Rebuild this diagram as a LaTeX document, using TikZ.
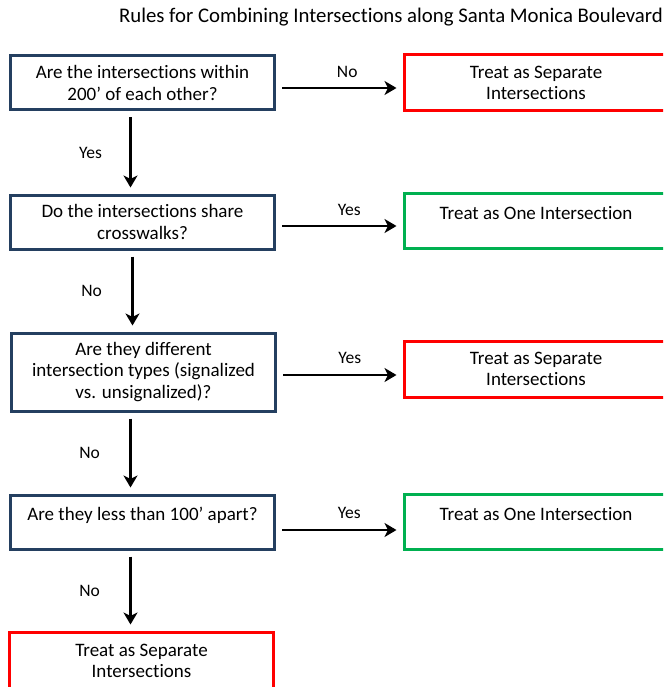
\documentclass[tikz,border=0pt]{standalone}
\usepackage{fontspec}
\setmainfont{Carlito}[Ligatures=NoCommon]
\usetikzlibrary{arrows.meta}
\definecolor{qblue}{HTML}{243F60}
\definecolor{rred}{HTML}{FF0000}
\definecolor{ggreen}{HTML}{00B050}
\tikzset{
  box/.style={draw, line width=3pt, minimum width=264pt, align=center, inner sep=0pt,
    font=\fontsize{19}{21.5}\selectfont},
  qbox/.style={box, draw=qblue},
  rbox/.style={box, draw=rred},
  gbox/.style={box, draw=ggreen},
  lbl/.style={font=\fontsize{17.5}{19}\selectfont},
  arr/.style={line width=2.6pt, -{Stealth[length=12pt,width=14pt,inset=3.5pt]}, shorten <=6pt, shorten >=6pt}
}
\begin{document}
\begin{tikzpicture}[x=1pt,y=-1pt]
\useasboundingbox (0,0) rectangle (663,687);
\clip (0,0) rectangle (663,687);
\fill[white] (0,0) rectangle (663,687);
\node[font=\fontsize{20.8}{23}\selectfont] (title) at (391,17) {Rules for Combining Intersections along Santa Monica Boulevard};

\node[qbox, minimum height=54pt] (q1) at (142.5,83) {Are the intersections within\\200’ of each other?};
\node[rbox, minimum height=56pt] (r1) at (536,83) {Treat as Separate\\Intersections};

\node[qbox, minimum height=54pt] (q2) at (142.5,222) {Do the intersections share\\crosswalks?};
\node[gbox, minimum height=55pt] (g2) at (536,220.5) {Treat as One Intersection\\[-12pt]\strut};

\node[qbox, minimum height=78pt] (q3) at (143.5,372) {Are they different\\intersection types (signalized\\vs. unsignalized)?};
\node[rbox, minimum height=56pt] (r3) at (536,369) {Treat as Separate\\Intersections};

\node[qbox, minimum height=54pt] (q4) at (142.5,522) {Are they less than 100’ apart?\\[-12pt]\strut};
\node[gbox, minimum height=55pt] (g4) at (536,521.5) {Treat as One Intersection\\[-12pt]\strut};

\node[rbox, minimum height=58pt] (r5) at (141.5,661) {Treat as Separate\\Intersections};

% horizontal arrows
\draw[arr] ([yshift=-5pt]q1.east) -- ([yshift=-5pt]q1.east -| r1.west) node[lbl, midway, above=6pt, xshift=8pt] (l1) {No};
\draw[arr] ([yshift=-4pt]q2.east) -- ([yshift=-4pt]q2.east -| g2.west) node[lbl, midway, above=6pt, xshift=10pt] (l2) {Yes};
\draw[arr] ([yshift=-3pt]q3.east) -- ([yshift=-3pt]q3.east -| r3.west) node[lbl, midway, above=7pt, xshift=10pt] (l3) {Yes};
\draw[arr] ([yshift=-8pt]q4.east) -- ([yshift=-8pt]q4.east -| g4.west) node[lbl, midway, above=7pt, xshift=10pt] (l4) {Yes};

% vertical arrows
\draw[arr] ([xshift=-12pt]q1.south) -- ([xshift=-12pt]q1.south |- q2.north) node[lbl, midway, left=24pt] (l5) {Yes};
\draw[arr] ([xshift=-10pt]q2.south) -- ([xshift=-10pt]q2.south |- q3.north) node[lbl, midway, left=26pt] (l6) {No};
\draw[arr] ([xshift=-13pt]q3.south) -- ([xshift=-13pt]q3.south |- q4.north) node[lbl, midway, left=26pt] (l7) {No};
\draw[arr] ([xshift=-12pt]q4.south) -- ([xshift=-12pt]q4.south |- r5.north) node[lbl, midway, left=26pt] (l8) {No};
\end{tikzpicture}
\end{document}
